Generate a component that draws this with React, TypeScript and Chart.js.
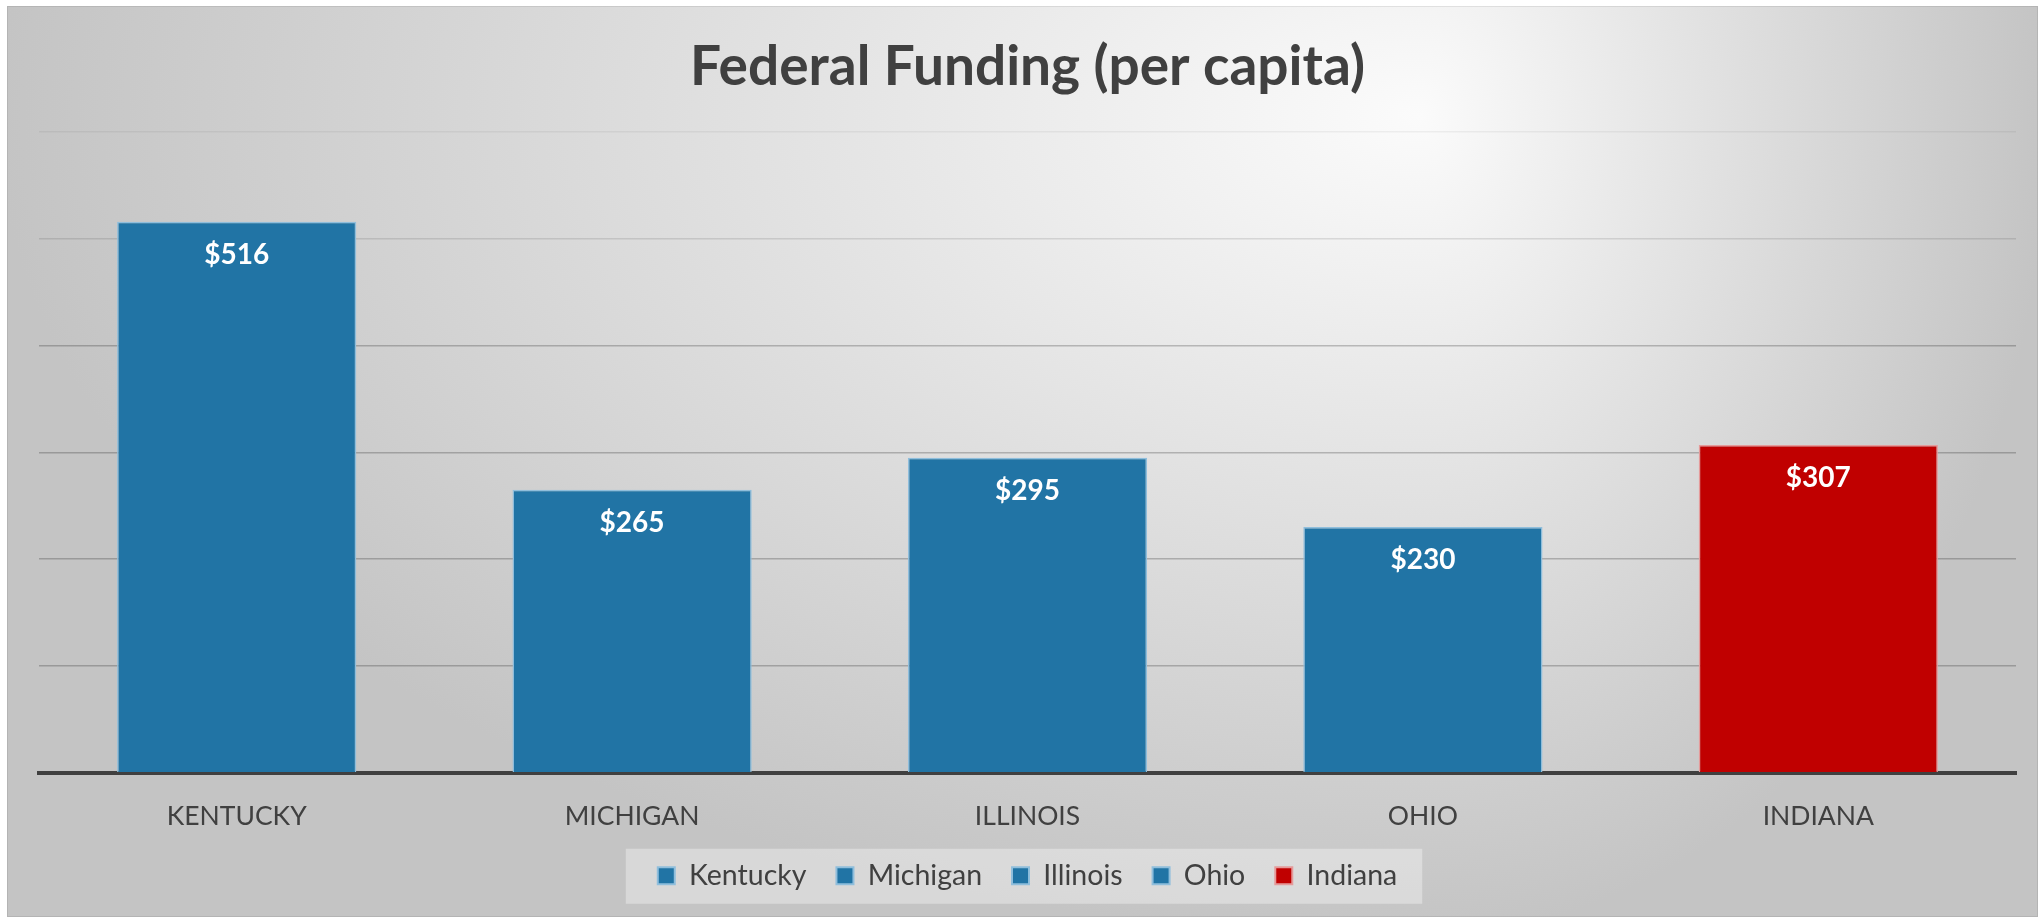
import React, { useEffect, useRef } from "react";
import { Chart, registerables } from "chart.js";

Chart.register(...registerables);

const chartTitle = "Federal Funding (per capita)";
const categories = ["KENTUCKY", "MICHIGAN", "ILLINOIS", "OHIO", "INDIANA"];
const legendNames = ["Kentucky", "Michigan", "Illinois", "Ohio", "Indiana"];
const values = [516, 265, 295, 230, 307];
const barColors = ["#2174A5", "#2174A5", "#2174A5", "#2174A5", "#C00000"];
const barBorders = ["#8FBEDC", "#8FBEDC", "#8FBEDC", "#8FBEDC", "#E59A9A"];
const yMin = 0;
const yMax = 600;
const yStep = 100;

const FONT = "Lato, 'Open Sans', 'Noto Sans', sans-serif";
const TEXT = "#404040";

const backgroundPlugin = {
  id: "bgGradient",
  beforeDraw(chart: any) {
    const { ctx, width, height } = chart;
    ctx.save();
    const cx = 1413;
    const cy = 110;
    const ry = 820;
    const halves = [
      { x0: 0, x1: cx, rx: cx + 10 },
      { x0: cx, x1: width, rx: width - cx + 10 },
    ];
    for (const h of halves) {
      ctx.save();
      ctx.beginPath();
      ctx.rect(h.x0, 0, h.x1 - h.x0, height);
      ctx.clip();
      ctx.translate(cx, cy);
      ctx.scale(h.rx / ry, 1);
      const g = ctx.createRadialGradient(0, 0, 0, 0, 0, ry);
      g.addColorStop(0, "#fbfbfb");
      g.addColorStop(1, "#c4c4c4");
      ctx.fillStyle = g;
      ctx.fillRect(-4000, -4000, 8000, 8000);
      ctx.restore();
    }
    ctx.strokeStyle = "rgba(0,0,0,0.08)";
    ctx.lineWidth = 1;
    ctx.strokeRect(0.5, 0.5, width - 1, height - 1);

    const lg = chart.legend;
    if (lg && lg.legendHitBoxes && lg.legendHitBoxes.length) {
      const hbs = lg.legendHitBoxes;
      let left = Infinity;
      let right = -Infinity;
      for (const hb of hbs) {
        left = Math.min(left, hb.left);
        right = Math.max(right, hb.left + hb.width);
      }
      const cyl = hbs[0].top + hbs[0].height / 2;
      ctx.fillStyle = "rgba(255,255,255,0.35)";
      ctx.fillRect(left - 32, cyl - 27, right - left + 57, 55);
    }
    ctx.restore();
  },
};

const dataLabelPlugin = {
  id: "barValueLabels",
  afterDatasetsDraw(chart: any) {
    const { ctx } = chart;
    const meta = chart.getDatasetMeta(0);
    ctx.save();
    ctx.fillStyle = "#ffffff";
    ctx.font = `bold 28px ${FONT}`;
    ctx.textAlign = "center";
    ctx.textBaseline = "middle";
    meta.data.forEach((bar: any, i: number) => {
      ctx.fillText("$" + values[i], bar.x, bar.y + 33);
    });
    ctx.restore();
  },
};

export default function App() {
  const canvasRef = useRef<HTMLCanvasElement | null>(null);

  useEffect(() => {
    const canvas = canvasRef.current;
    if (!canvas) return;
    const chart = new Chart(canvas, {
      type: "bar",
      data: {
        labels: categories,
        datasets: [
          {
            label: "Federal Funding",
            data: values,
            backgroundColor: barColors,
            borderColor: barBorders,
            borderWidth: 1.5,
            borderSkipped: "bottom",
            barPercentage: 0.605,
            categoryPercentage: 1,
          },
        ],
      },
      options: {
        responsive: false,
        animation: false,
        events: [],
        layout: { padding: { left: 32, right: 22, top: 0, bottom: 17 } },
        plugins: {
          tooltip: { enabled: false },
          title: {
            display: true,
            text: chartTitle,
            color: TEXT,
            font: { family: FONT, size: 55, weight: "bold", lineHeight: 1.2 },
            padding: { top: 28, bottom: 32 },
          },
          legend: {
            display: true,
            position: "bottom",
            onClick: () => {},
            labels: {
              boxWidth: 17,
              boxHeight: 17,
              padding: 30,
              color: TEXT,
              font: { family: FONT, size: 28.5 },
              generateLabels: () =>
                legendNames.map((name, i) => ({
                  text: name,
                  fillStyle: barColors[i],
                  strokeStyle: barBorders[i],
                  lineWidth: 2,
                  fontColor: TEXT,
                  hidden: false,
                  index: i,
                  datasetIndex: 0,
                })),
            },
          },
        },
        scales: {
          x: {
            grid: { display: false, drawTicks: false },
            border: { display: true, color: "#404040", width: 4 },
            ticks: {
              color: TEXT,
              font: { family: FONT, size: 26.5 },
              padding: 28,
            },
            afterFit: (scale: any) => {
              scale.height = scale.height - 29;
            },
          },
          y: {
            min: yMin,
            max: yMax,
            ticks: { stepSize: yStep, display: false },
            border: { display: false },
            grid: {
              drawTicks: false,
              lineWidth: 1.5,
              color: (ctx: any) => {
                const v = ctx.tick ? ctx.tick.value : 0;
                if (v === 0) return "rgba(0,0,0,0)";
                if (v === 600) return "rgba(0,0,0,0.05)";
                if (v === 500) return "rgba(0,0,0,0.11)";
                return "rgba(0,0,0,0.22)";
              },
            },
          },
        },
      },
      plugins: [backgroundPlugin, dataLabelPlugin],
    } as any);
    return () => chart.destroy();
  }, []);

  return (
    <canvas
      ref={canvasRef}
      width={2031}
      height={911}
      style={{ position: "fixed", left: 7, top: 6, display: "block" }}
    />
  );
}
